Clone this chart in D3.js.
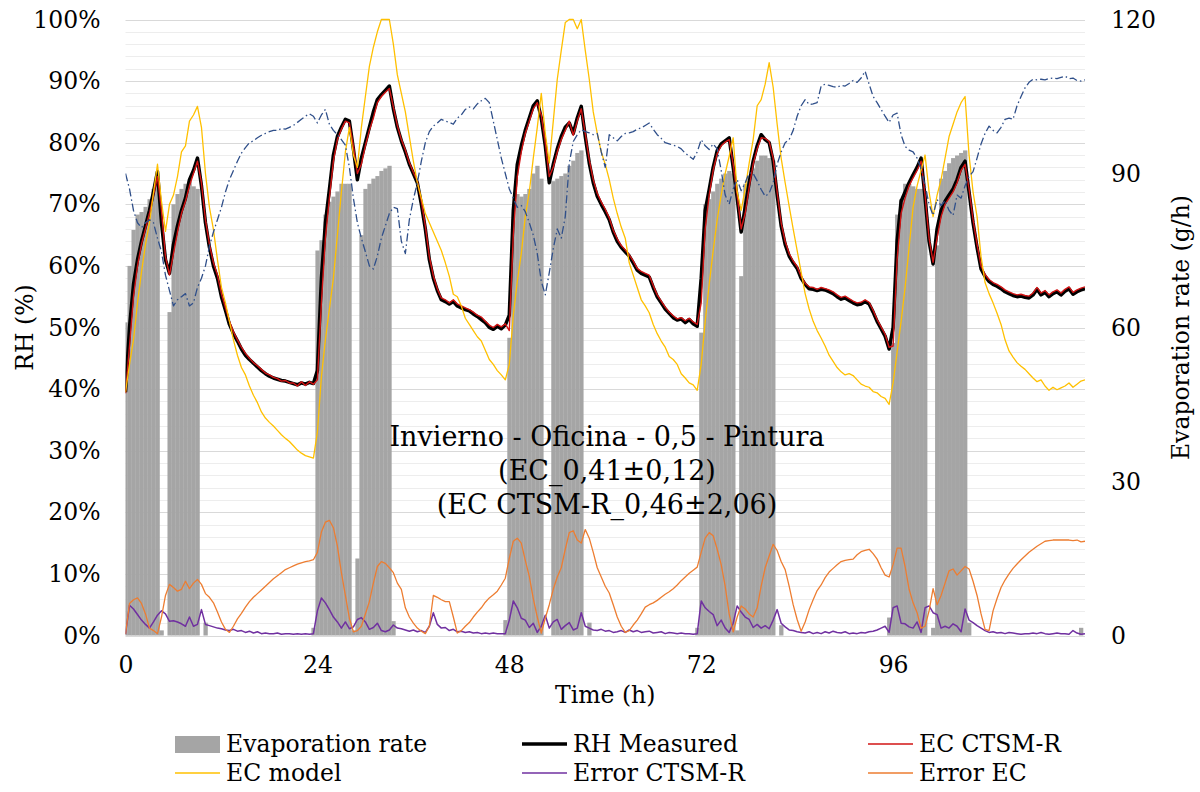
<!DOCTYPE html>
<html><head><meta charset="utf-8">
<script src="https://cdn.jsdelivr.net/npm/d3@7"></script>
<style>
body{margin:0;background:#fff}
svg{display:block}
text{font-family:"DejaVu Serif",serif;fill:#000}
</style>
</head><body>
<svg id="chart" width="1200" height="792"></svg>
<script>
// ---------------- DATA (time step 0.5 h, t = 0 ... 120 h) ----------------
const hours = d3.range(0, 120.001, 0.5);
const xTicks = [0, 24, 48, 72, 96];
const leftTicks = [0,10,20,30,40,50,60,70,80,90,100];
const rightTicks = [0,30,60,90,120];

const evaporationRate = [
 61,72,79,82,82.5,83.5,85,87,89,1,0,63,84,86,87,88,88.5,87.5,87,0,2.5,0,0,0,0,0,0,0,0,0,0,0,0,0,0,0,0,0,0,0,0,0,0,0,0,0,0,1.5,
 75,77,82,84.5,85.5,86.5,88,88,88,1,15,78,87,88,89,89.5,90.5,91,91.5,2.8,0,0,0,0,0,0,0,0,0,0,0,0,0,0,0,0,0,0,0,0,0,0,0,0,0,0,0,3,
 58,81,86,85.5,86,87,90,91.5,89,0,0,88.5,89,89.5,90,91.5,92.5,94,94.5,0,2.5,0,0,0,0,0,0,0,0,0,0,0,0,0,0,0,0,0,0,0,0,0,0,0,0,0,0,1.5,
 59,84,85,86.5,88,89,90,90.5,90,1,70,88,89.5,91,92.5,93.5,93.5,93,92.5,0,2,0,0,0,0,0,0,0,0,0,0,0,0,0,0,0,0,0,0,0,0,0,0,0,0,0,0,3.5,
 57,82,85,88,88,87.5,87,87,86.5,0,1.5,76,89,90.5,92,93,93.5,94,94.5,2.5,0,0,0,0,0,0,0,0,0,0,0,0,0,0,0,0,0,0,0,0,0,0,0,0,0,0,0,1.5,
 0];

const rhMeasured = [
 39.5,50,57,61,64,66.5,69,72,75.3,67,61,58.8,63.5,66.5,69,71,74,75.5,77.5,73,67,63,60,58,55,52.8,50.5,49,47.8,46.5,45.5,44.8,44.2,43.6,43,42.5,42.1,41.8,41.6,41.4,41.3,41.1,40.9,40.7,41.0,40.8,41.1,40.9,
 43,58,67,72.4,78,81,82.5,83.8,83.5,79,74,77.5,80,82.5,85,87,87.8,88.5,89.2,85.5,82.5,80.3,78.5,76.5,75,73.5,70,66,61,58,56,54.5,54.2,53.8,54.2,53.5,53.2,52.9,52.7,52.2,51.8,51.3,50.8,50,49.7,50.2,49.8,50.4,
 52,69,76.5,79.5,82,84,86,86.8,84,79.5,73.5,76.5,79,81,82.5,83.2,81.5,84,85.9,81,76.7,73.5,71.3,70,68.8,67.5,65.5,64,63,62.3,61.6,60.5,59.3,58.8,58.5,58.2,56.5,55,54,53,52.3,51.6,51.2,51.4,50.8,51.3,50.6,50.2,
 58,69,72.4,76,78.7,79.8,80.3,80.8,76,71,65.5,69.5,73.5,77,79.5,81.3,80.5,80,77,71.5,66.5,63.5,61.6,60.5,59.6,58,57,56.3,56.2,56,56.2,56.1,55.8,55.5,55,54.6,54.8,54.4,54,53.7,53.8,54.2,53.8,52.5,51,49.8,48.6,46.5,
 50,64,70.5,72,73.5,74.8,76,77.5,71,64,60.3,66,69,70.5,71.5,72.5,74,76,77,72,67,63,59.5,58.3,57.5,57,56.7,56.3,55.8,55.5,55.2,55,55.1,54.9,54.8,55.3,56.2,55.3,55.7,55,55.5,55.8,55.3,55.9,56.3,55.4,55.8,56.1,
 56.3];

const ecCtsmR = [
 39.3,47,55,60,63.5,66,68.5,71.5,74.5,69,61.5,58.5,62,65.5,68.5,70.5,73,75,77,73.5,67.5,63.5,60.5,58.5,55.5,53.2,51,49.3,48,46.8,45.8,45,44.3,43.8,43.2,42.6,42.3,41.9,41.7,41.3,41.4,41,41,40.5,41.2,40.6,41.2,40.8,
 41.5,54,64.5,71,77,80.5,82.2,83.5,83.2,79.5,75,76.5,79.5,82,84,86.5,87.5,88.2,88.8,85.8,82.8,80.5,78.8,76.8,75.2,73.8,70.5,66.5,61.5,58.4,56.3,54.8,54.5,54,54.5,53.8,53.5,53.2,52.9,52.5,52,51.7,51,50.4,50,50.5,50.1,50.6,
 49.5,65,74.5,78.5,81.5,83.5,85.5,86.5,84.5,80,74.5,76,78.5,80.5,82,83.5,81.2,83.5,85.5,81.5,77.2,74,71.8,70.4,69.2,67.8,65.8,64.4,63.3,62.6,61.8,60.8,59.6,59.1,58.8,58.5,56.8,55.3,54.3,53.3,52.5,51.9,51.4,51.6,51.1,51.5,50.9,50.5,
 54,66,71.5,75.5,78.2,79.5,80.1,80.5,76.5,71.5,66,68.5,72.8,76.5,79,80.8,80.7,80.2,77.5,72,67,64,62,60.8,59.9,58.3,57.2,56.6,56.5,56.2,56.5,56.3,56.1,55.8,55.3,54.9,55.1,54.7,54.3,54,54.1,54.5,54.1,52.8,51.3,50.1,48.9,46.8,
 47,61,68.5,71,73,74.3,75.5,77,71.5,64.5,60.6,64.5,68,70,71,72,73.5,75.5,76.5,72.5,67.5,63.5,60,58.6,57.8,57.3,57,56.6,56.1,55.8,55.5,55.3,55.4,55.2,55.1,55.6,56.5,55.6,56,55.3,55.8,56.1,55.6,56.2,56.6,55.7,56.1,56.4,
 56.6];

const ecModel = [
 39.5,44,48,54,59,63.5,67,71.9,76.5,70.5,65.6,70,71.5,74.5,78.5,79.5,83.5,84.5,85.9,82.5,75,69.5,65.9,61,56.5,54,51,48,45.5,43.5,42.3,40.5,39,37.8,36.3,35.3,34.6,34,33.3,32.6,32,31.5,30.8,30.1,29.6,29.2,29,28.8,
 33,42,48,53,58,65,72,78.5,82.5,78,76,82.5,87.5,92.4,95.5,98,100,100,100,96,91,88,85,81,77,73.5,71,68.5,67,65.5,64,62.5,60.5,58.3,55.4,55,53.5,51.5,50.5,49.5,48.5,47.8,46.3,44.8,44,43,42.3,41.5,
 44,52,57.5,62,68,72,77.5,82.5,88,81.5,76.7,83.5,90.3,95,99.5,100,100,98.5,100,95,90.3,85,81.5,78.5,76.5,74,71,68.5,66.3,64.5,60.5,58.5,56.5,54.5,53.5,52.4,50.5,49,47.8,46.8,45.3,44.8,44,42.5,41.8,41,40.7,39.8,
 44,51,57,62.5,67.5,71.5,75,77.8,80.8,72,69,72.5,76.7,80.5,86,87,89.5,93,89,83,77.5,73.5,69.7,66,62.5,59,55.5,53,51,49.5,48.3,47,45.5,44.5,43.5,42.8,42.3,42.5,42.2,41.5,40.8,40.5,40.3,39.6,39.4,38.8,38.5,37.5,
 41,46,51,56.5,63,69.5,73,75.5,78,72,68,71.5,74,77.5,81,83,85,86.5,87.5,78,72,68,61.5,57.3,55.5,54,52.3,50.5,48,46.2,45.2,44.3,43.7,43.2,42.5,41.8,41.2,41.5,40.5,39.8,40.3,39.9,40.2,40.5,41,40.3,40.8,41.3,
 41.5];

const errorCtsmR = [
 0.2,4.9,4.3,3.4,2.5,1.8,1.2,2.2,3.3,4,3.5,2.3,2.4,2.2,1.9,1.5,3,1.5,1.8,4.2,1.8,1.6,1.4,1.2,1.1,0.9,0.8,1,0.7,0.8,0.5,0.7,0.4,0.6,0.3,0.4,0.3,0.3,0.4,0.2,0.3,0.3,0.2,0.3,0.2,0.3,0.2,0.3,
 4,6.1,5.3,4.2,3,2.2,1.2,2.2,1.1,1.4,2.6,2.9,2.2,1,1.3,2,0.8,0.6,0.9,1.7,1.2,1.1,0.9,0.7,0.9,0.6,0.8,0.5,1.5,3.7,1.8,1.2,1.3,0.8,1,0.6,0.7,0.5,0.6,0.4,0.5,0.3,0.4,0.3,0.4,0.3,0.3,0.3,
 2.5,5.6,4.5,2.8,2.5,1.3,2,0.5,1.5,3.3,1.2,2.2,2.6,1,1.6,2.1,0.9,1.2,3.7,1.5,1.2,0.9,0.8,1,0.7,0.8,0.5,0.6,0.8,0.5,0.9,0.6,0.8,0.5,0.6,0.7,0.4,0.5,0.6,0.3,0.5,0.4,0.3,0.4,0.3,0.3,0.2,0.3,
 5.6,4.5,3.9,3.4,1.6,2.5,1.2,0.5,2,4.8,3.8,3,2.6,1.3,1.8,1.2,1.6,1.1,2.5,4.2,2,1.4,0.9,0.8,0.6,0.5,0.4,0.6,0.3,0.5,0.3,0.6,0.4,0.7,0.5,0.4,0.6,0.3,0.4,0.3,0.5,0.4,0.6,0.7,0.9,1.2,1.5,0.5,
 4.5,4.8,2,1.9,1.4,1.2,2.2,0.5,4.5,4.8,3.7,3.4,1.2,1.5,1.2,1.9,1.5,0.6,4.3,2.5,2.1,1.6,1.2,0.8,0.5,0.6,0.4,0.5,0.3,0.5,0.4,0.3,0.2,0.3,0.3,0.4,0.3,0.5,0.3,0.2,0.3,0.4,0.3,0.3,0.2,0.8,0.4,0.2,
 0.3];

const errorEC = [
 0.2,5.2,5.8,6.1,5.2,3.5,1.2,0.8,0.3,3,6.5,8.3,7.8,7.2,7.5,8.8,7.6,8.5,9.1,8.3,6.8,6.2,5.3,3.8,2.2,1,0.5,1.5,2.7,3.6,4.6,5.5,6.2,6.8,7.4,8,8.6,9.2,9.7,10.2,10.7,11,11.3,11.6,11.8,12,12.1,12.3,
 13.5,16.8,18.4,18.7,17.5,14.5,10.2,6.5,2.8,0.6,0.8,1.5,3.5,5.5,8.5,11.2,12,11.7,11,10.2,8.5,7.5,4.5,3,2,1.2,0.7,0.3,1.5,6.5,6.2,5.8,5.5,5.5,3,0.4,0.8,1.5,2.1,3,3.8,4.5,5.4,6.1,6.6,7.2,8.2,9.3,
 12.5,15.3,15.8,15,12.2,9.6,6,3,0.4,2.8,5,7.5,9.5,11,14,16.7,17,15.5,15,17.2,15.8,13.5,11,9.5,8,6.9,5,3,1.5,0.5,0.8,1.7,2.5,3.5,4.6,5,5.3,5.7,6.2,6.7,7.1,7.6,8.2,8.9,9.5,10.1,10.6,11.1,
 13.5,15.8,16.7,16.2,14,11.5,8,3.5,0.6,3,4.8,4.3,3.5,3,4.5,8,11,12.9,14.8,13.8,12,10.7,8,5,2.6,0.7,2.2,4.2,5.8,7.3,8.2,9.4,10.3,10.9,11.5,12,12.2,12.3,12.4,13.1,13.6,13.8,14,13.3,12.4,11,9.8,9.5,
 11.5,14.2,14.2,11.2,7.5,5.3,3.7,1.2,1.5,4,7.6,5,6.5,8.5,10.5,10.8,9.8,10.5,11.2,10.8,8.8,6.5,3.5,1,0.8,4,6,7.8,9,10,10.9,11.6,12.3,12.9,13.5,14,14.5,14.9,15.3,15.4,15.5,15.5,15.5,15.5,15.5,15.4,15.5,15.2,
 15.3];

// unlabeled dash-dot series (no legend entry in the original)
const unlabeledSeries = [
 75,72.5,69,67,66.2,67,67.5,67,64.5,62.3,58.5,56,53.5,54.5,55,55.5,53.5,54,56.5,58,60,63.2,65.5,67.5,69.5,72,74,75.5,77,78.3,79.2,80,80.3,80.8,81.2,81.5,81.8,82,82,82.3,82.2,82.5,82.8,83.3,83.8,84.3,84.7,84.3,
 83.2,84.5,85.4,83,82,81.3,80.5,79.6,76,71,67,64.5,62.3,60,59.5,61.6,64.5,66.5,68.5,69.5,69.3,64,62,67.5,70.8,73.5,77,80,81.8,82.7,83.2,83.8,83.5,83.3,83,84,84.5,85.4,85.8,85.5,86.3,86.8,87.2,86.5,83.5,80.5,77.5,75,
 72.5,71,69.5,69.8,68.8,67,65,62,57.5,55.3,58.9,62.8,66,64.5,68,76.7,80.2,81.3,82.1,81.8,81.6,81.3,81.5,78.5,76,81.3,80.8,80.3,81,81.5,81.6,81.8,82.2,82.4,82.8,83.2,82.2,81.3,80.7,80,79.8,79.6,79.4,79,78.3,77.8,77.3,78.5,
 80.5,79.5,78.9,79.8,79,75.5,71.5,70,72.5,74,72.2,73.5,75.1,75,73.8,72.4,71.3,71.8,73.5,76.5,78.5,80,80.5,82,84.3,86,87,86.2,86.3,86.5,89.2,89.5,89.3,89.1,89,89.3,89.2,89.6,90.1,89.8,90.5,91.6,89.5,87.5,86.5,85.4,84.3,83.3,
 84.5,84.8,81.3,79.4,78.8,78.5,77.5,75.8,73,70,68.2,70.8,69.8,70.6,69,68.2,71.5,71,73,74.5,75.3,77.5,79.8,81.5,82.7,82,81.6,82.5,83.8,84,83.8,86,87.5,88.9,89.8,90.3,90.2,90.3,90.2,90.4,90.5,90.4,90.6,90.8,90.4,90.5,90.1,90,
 90.2];

const titleLines = ["Invierno - Oficina - 0,5 - Pintura", "(EC_0,41\u00B10,12)", "(EC CTSM-R_0,46\u00B12,06)"];

const legendItems = [
  {name:"Evaporation rate", type:"bar",  color:"#A5A5A5"},
  {name:"RH Measured",      type:"line", color:"#000000", width:3.5},
  {name:"EC CTSM-R",        type:"line", color:"#D21414", width:1.5},
  {name:"EC model",         type:"line", color:"#FFC000", width:1.3},
  {name:"Error CTSM-R",     type:"line", color:"#7030A0", width:1.5},
  {name:"Error EC",         type:"line", color:"#ED7D31", width:1.3}
];

// ---------------- CHART ----------------
const svg = d3.select("#chart");
const plot = {left:125.5, right:1085, top:19.5, bottom:635.5};
const FS = 23.5;

const x = d3.scaleLinear().domain([0,120]).range([plot.left, plot.right]);
const yL = d3.scaleLinear().domain([0,100]).range([plot.bottom, plot.top]);
const yR = d3.scaleLinear().domain([0,120]).range([plot.bottom, plot.top]);

svg.append("defs").append("clipPath").attr("id","clip")
  .append("rect").attr("x",plot.left).attr("y",plot.top-2)
  .attr("width",plot.right-plot.left).attr("height",plot.bottom-plot.top+4);

// gridlines
const minor = d3.range(0, 101, 2).filter(v => v % 10 !== 0);
svg.append("g").selectAll("line").data(minor).join("line")
  .attr("x1",plot.left).attr("x2",plot.right)
  .attr("y1",d=>Math.round(yL(d))+0.5).attr("y2",d=>Math.round(yL(d))+0.5)
  .attr("stroke","#EDEDED").attr("stroke-width",1);
svg.append("g").selectAll("line").data(leftTicks).join("line")
  .attr("x1",plot.left).attr("x2",plot.right)
  .attr("y1",d=>Math.round(yL(d))+0.5).attr("y2",d=>Math.round(yL(d))+0.5)
  .attr("stroke","#D9D9D9").attr("stroke-width",1);

// bars
const bw = x(0.5) - x(0);
svg.append("g").attr("clip-path","url(#clip)").selectAll("rect")
  .data(hours.map((t,i)=>({t, v:evaporationRate[i]})).filter(d=>d.v>0))
  .join("rect")
  .attr("x", d=>x(d.t) - bw/2).attr("width", bw+0.3)
  .attr("y", d=>yR(d.v)).attr("height", d=>yR(0)-yR(d.v))
  .attr("fill","#A5A5A5");

// lines
function drawLine(arr, color, width, dash){
  const line = d3.line().x((d,i)=>x(hours[i])).y(d=>yL(d));
  svg.append("path").attr("clip-path","url(#clip)")
    .attr("d", line(arr)).attr("fill","none")
    .attr("stroke",color).attr("stroke-width",width)
    .attr("stroke-linejoin","round")
    .attr("stroke-dasharray", dash || null);
}
drawLine(rhMeasured, "#000000", 3.5);
drawLine(ecCtsmR, "#D21414", 1.4);
drawLine(ecModel, "#FFC000", 1.3);
drawLine(errorCtsmR, "#7030A0", 1.5);
drawLine(errorEC, "#ED7D31", 1.3);
drawLine(unlabeledSeries, "#2F4F8A", 1.3, "8,3,1.5,3");

// axes
const axL = svg.append("g").attr("transform",`translate(${plot.left},0)`)
  .call(d3.axisLeft(yL).tickValues(leftTicks).tickFormat(d=>d+"%").tickSize(0).tickPadding(25));
const axR = svg.append("g").attr("transform",`translate(${plot.right},0)`)
  .call(d3.axisRight(yR).tickValues(rightTicks).tickFormat(d3.format("d")).tickSize(0).tickPadding(26));
const axB = svg.append("g").attr("transform",`translate(0,${plot.bottom})`)
  .call(d3.axisBottom(x).tickValues(xTicks).tickFormat(d3.format("d")).tickSize(0).tickPadding(21));
[axL,axR,axB].forEach(a=>{
  a.attr("font-family",null);
  a.select(".domain").remove();
  a.selectAll("text").style("font-family","'DejaVu Serif', serif").attr("font-size",FS).attr("fill","#000");
});

// axis titles
svg.append("text").attr("transform",`translate(33,${(plot.top+plot.bottom)/2}) rotate(-90)`)
  .attr("text-anchor","middle").attr("font-size",FS).text("RH (%)");
svg.append("text").attr("transform",`translate(1189,${(plot.top+plot.bottom)/2}) rotate(-90)`)
  .attr("text-anchor","middle").attr("font-size",FS).text("Evaporation rate (g/h)");
svg.append("text").attr("x",(plot.left+plot.right)/2).attr("y",703)
  .attr("text-anchor","middle").attr("font-size",FS).text("Time (h)");

// in-plot title
const tg = svg.append("g");
titleLines.forEach((s,i)=>{
  tg.append("text").attr("x",607).attr("y",446 + i*34)
    .attr("text-anchor","middle").attr("font-size",27).text(s);
});

// legend
const legCols = [175, 522, 868];
const legRows = [744, 773];
legendItems.forEach((it,i)=>{
  const cx = legCols[i%3], cy = legRows[Math.floor(i/3)];
  const g = svg.append("g");
  if(it.type==="bar"){
    g.append("rect").attr("x",cx).attr("y",cy-8).attr("width",45).attr("height",17).attr("fill",it.color);
  } else {
    g.append("line").attr("x1",cx).attr("x2",cx+45).attr("y1",cy).attr("y2",cy)
      .attr("stroke",it.color).attr("stroke-width",it.width);
  }
  g.append("text").attr("x",cx+51).attr("y",cy+8).attr("font-size",FS).text(it.name);
});
</script>
</body></html>
